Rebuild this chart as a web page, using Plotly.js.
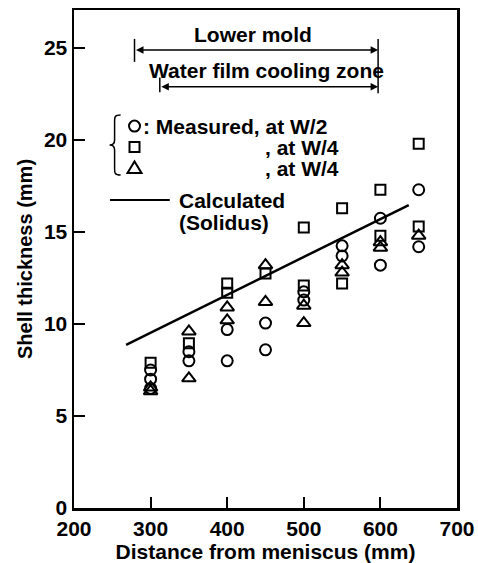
<!DOCTYPE html>
<html>
<head>
<meta charset="utf-8">
<script src="https://cdn.plot.ly/plotly-3.0.1.min.js"></script>
<style>html,body{margin:0;padding:0;background:#fff;}#chart{width:478px;height:563px;}</style>
</head>
<body>
<div id="chart"></div>
<script>
// Measured at W/2 (circles)
const circleX = [300, 300, 300, 350, 350, 400, 400, 450, 450, 500, 500, 550, 550, 600, 600, 650, 650];
const circleY = [7.5, 7.0, 6.5, 8.5, 8.0, 9.7, 8.0, 10.05, 8.6, 11.75, 11.3, 14.25, 13.7, 15.75, 13.2, 17.3, 14.2];
// Measured at W/4 (squares)
const squareX = [300, 350, 400, 400, 450, 500, 500, 550, 550, 600, 600, 650, 650];
const squareY = [7.9, 8.95, 12.2, 11.7, 12.75, 15.25, 12.1, 16.3, 12.2, 17.3, 14.8, 19.8, 15.3];
// Measured at W/4 (triangles)
const triX = [300, 300, 350, 350, 400, 400, 450, 450, 500, 500, 550, 550, 600, 600, 650];
const triY = [6.55, 6.35, 9.6, 7.05, 10.9, 10.2, 13.2, 11.2, 11.0, 10.05, 13.2, 12.8, 14.45, 14.15, 14.8];
// Calculated (Solidus)
const calcX = [268, 637];
const calcY = [8.87, 16.47];
// Axis ticks
const xTicks = [200, 300, 400, 500, 600, 700];
const yTicks = [0, 5, 10, 15, 20, 25];

const FONT = 'Liberation Sans, Arial, sans-serif';
const mk = (sym, size) => ({symbol: sym, size: size, color: '#000', line: {color: '#000', width: 2}});

const traces = [
  {x: calcX, y: calcY, mode: 'lines', line: {color: '#000', width: 2.5}, hoverinfo: 'skip'},
  {x: circleX, y: circleY, mode: 'markers', marker: mk('circle-open', 11)},
  {x: squareX, y: squareY, mode: 'markers', marker: mk('square-open', 10)},
  {x: triX, y: triY, mode: 'markers', marker: mk('triangle-up-open', 12)}
];

const txt = (x, y, t, xanchor) => ({x: x, y: y, xref: 'x', yref: 'y', text: t, showarrow: false,
  xanchor: xanchor || 'center', yanchor: 'middle', font: {family: FONT, size: 21, weight: 'bold', color: '#000'}});
const arrow = (xFrom, xTo, y) => ({x: xTo, y: y, ax: xFrom, ay: y, xref: 'x', yref: 'y', axref: 'x', ayref: 'y',
  text: '', showarrow: true, arrowhead: 2, arrowside: 'end+start', arrowsize: 1, arrowwidth: 1.5, arrowcolor: '#000', standoff: 0, startstandoff: 0});

const annotations = [
  txt(434, 25.76, 'Lower mold'),
  txt(451, 23.8, 'Water film cooling zone'),
  arrow(279, 597, 24.9),
  arrow(312, 597, 22.9),
  txt(288, 20.76, ': Measured, at W/2', 'left'),
  txt(447, 19.62, ', at W/4', 'left'),
  txt(447, 18.48, ', at W/4', 'left'),
  txt(334, 16.74, 'Calculated', 'left'),
  txt(334, 15.54, '(Solidus)', 'left')
];

const pix = (type, xa, ya, extra) => Object.assign({type: type, xref: 'x', yref: 'y', xsizemode: 'pixel', ysizemode: 'pixel',
  xanchor: xa, yanchor: ya, line: {color: '#000', width: 2}, fillcolor: 'rgba(0,0,0,0)'}, extra);

const shapes = [
  {type: 'line', xref: 'x', yref: 'y', x0: 279, x1: 279, y0: 24.25, y1: 25.5, line: {color: '#000', width: 1.5}},
  {type: 'line', xref: 'x', yref: 'y', x0: 597, x1: 597, y0: 22.55, y1: 25.5, line: {color: '#000', width: 1.5}},
  {type: 'line', xref: 'x', yref: 'y', x0: 312, x1: 312, y0: 22.6, y1: 23.4, line: {color: '#000', width: 1.5}},
  // legend keys
  pix('circle', 279, 20.76, {x0: -5.5, x1: 5.5, y0: -5.5, y1: 5.5}),
  pix('rect', 279, 19.62, {x0: -5, x1: 5, y0: -5, y1: 5}),
  pix('path', 279, 18.48, {path: 'M-7,-5 L7,-5 L0,6.5 Z'}),
  pix('path', 253, 19.73, {path: 'M6,30 C0,30 0,28 0,24 L0,5 C0,2 -2,0 -5,0 C-2,0 0,-2 0,-5 L0,-24 C0,-28 0,-30 6,-30', line: {color: '#000', width: 1.5}}),
  {type: 'line', xref: 'x', yref: 'y', x0: 247, x1: 325, y0: 16.74, y1: 16.74, line: {color: '#000', width: 2}}
];

const axisCommon = {showgrid: false, zeroline: false, showline: true, linecolor: '#000', linewidth: 2.5, mirror: true,
  ticks: 'inside', ticklen: 11, tickwidth: 2, tickcolor: '#000', tickfont: {family: FONT, size: 21, weight: 'bold', color: '#000'}};

const layout = {
  width: 478, height: 563,
  margin: {l: 74, r: 21, t: 10, b: 55},
  paper_bgcolor: '#fff', plot_bgcolor: '#fff',
  showlegend: false,
  font: {family: FONT, size: 21, weight: 'bold', color: '#000'},
  xaxis: Object.assign({}, axisCommon, {range: [200, 700], tickvals: xTicks, ticktext: xTicks.map(String),
    title: {text: 'Distance from meniscus (mm)', font: {family: FONT, size: 21, weight: 'bold', color: '#000'}, standoff: 4}}),
  yaxis: Object.assign({}, axisCommon, {range: [0, 27.07], tickvals: yTicks, ticktext: yTicks.map(String),
    title: {text: 'Shell thickness (mm)', font: {family: FONT, size: 20, weight: 'bold', color: '#000'}, standoff: 6}}),
  annotations: annotations,
  shapes: shapes
};

Plotly.newPlot('chart', traces, layout, {staticPlot: true, displayModeBar: false});
</script>
</body>
</html>
